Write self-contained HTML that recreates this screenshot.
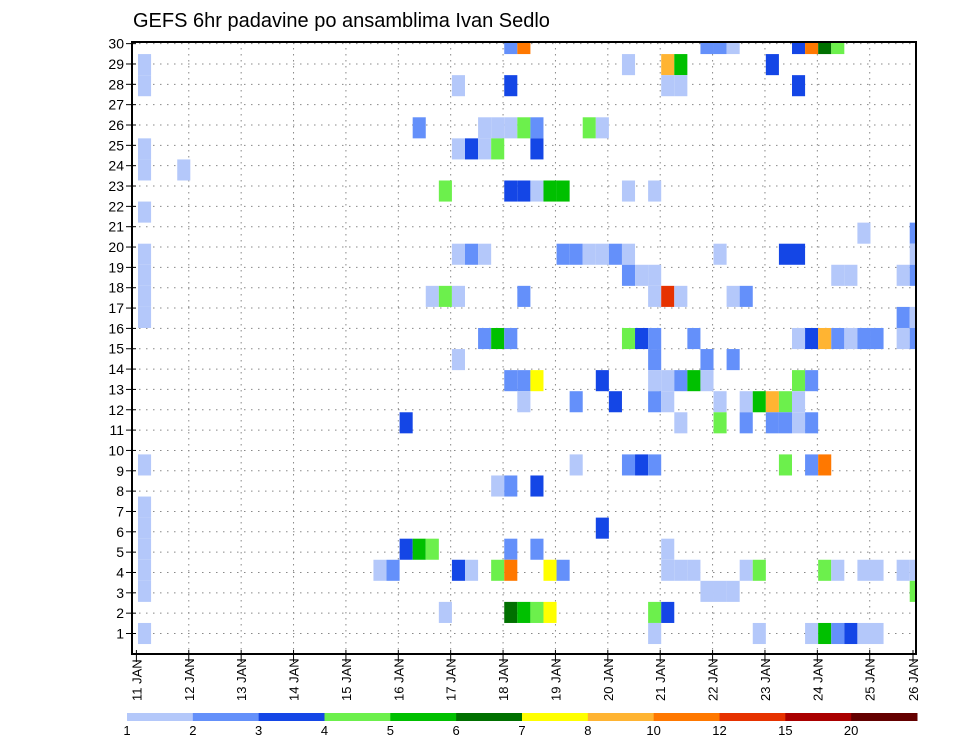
<!DOCTYPE html>
<html><head><meta charset="utf-8"><style>
html,body{margin:0;padding:0;background:#fff;}
svg{display:block;font-family:"Liberation Sans",sans-serif;}
</style></head><body>
<svg id="chart" width="960" height="742" viewBox="0 0 960 742">
<text x="133" y="27" font-size="20" fill="#000">GEFS 6hr padavine po ansamblima Ivan Sedlo</text>
<defs><clipPath id="pc"><rect x="132" y="42" width="784" height="612"/></clipPath></defs>
<g id="grid"></g>
<g id="cells" clip-path="url(#pc)"></g>
<rect x="132" y="42" width="784" height="612" fill="none" stroke="#000" stroke-width="2"/>
<g id="axes"></g>
<g id="legend"></g>
</svg>
<script>
const dayLabels=["11 JAN","12 JAN","13 JAN","14 JAN","15 JAN","16 JAN","17 JAN","18 JAN","19 JAN","20 JAN","21 JAN","22 JAN","23 JAN","24 JAN","25 JAN","26 JAN"];
const memberTicks=[1,2,3,4,5,6,7,8,9,10,11,12,13,14,15,16,17,18,19,20,21,22,23,24,25,26,27,28,29,30];
const levelBounds=[1,2,3,4,5,6,7,8,10,12,15,20];
const levelLabels=["1","2","3","4","5","6","7","8","10","12","15","20"];
const levelColors=["#b4c8fa","#6490fa","#1446e6","#6cf04c","#00c000","#007000","#ffff00","#ffb432","#ff7800","#e63200","#aa0000","#640000"];
const cellMember=[
29,29,29,29,29,29,29,29,29,
28,28,28,28,28,
27,27,27,27,27,27,
25,25,25,25,25,25,25,25,
24,24,24,24,24,24,
23,23,
22,22,22,22,22,22,22,22,
21,
20,20,
19,19,19,19,19,19,19,19,19,19,19,19,19,19,
18,18,18,18,18,18,18,18,
17,17,17,17,17,17,17,17,17,17,
16,16,16,
15,15,15,15,15,15,15,15,15,15,15,15,15,15,15,15,
14,14,14,14,
13,13,13,13,13,13,13,13,13,13,13,
12,12,12,12,12,12,12,12,12,12,12,
11,11,11,11,11,11,11,11,
9,9,9,9,9,9,9,9,
8,8,8,
7,
6,6,
5,5,5,5,5,5,5,
4,4,4,4,4,4,4,4,4,4,4,4,4,4,4,4,4,4,4,4,
3,3,3,3,3,
2,2,2,2,2,2,2,
1,1,1,1,1,1,1,1,1];
const cellStep=[
28,29,43,44,45,50,51,52,53,
0,37,40,41,48,
0,24,28,40,41,50,
21,26,27,28,29,30,34,35,
0,24,25,26,27,30,
0,3,
23,28,29,30,31,32,37,39,
0,
55,59,
0,24,25,26,32,33,34,35,36,37,44,49,50,59,
0,37,38,39,53,54,58,59,
0,22,23,24,29,39,40,41,45,46,
0,58,59,
26,27,28,37,38,39,42,50,51,52,53,54,55,56,58,59,
24,39,43,45,
28,29,30,35,39,40,41,42,43,50,51,
29,33,36,39,40,44,46,47,48,49,50,
20,41,44,46,48,49,50,51,
0,33,37,38,39,49,51,52,
27,28,30,
0,
0,35,
0,20,21,22,28,30,40,
0,18,19,24,25,27,28,31,32,40,41,42,46,47,52,53,55,56,58,59,
0,43,44,45,59,
23,28,29,30,31,39,40,
0,39,47,51,52,53,54,55,56];
const cellPrecip=[
2.5,11,2.5,2.5,1.5,3.5,11,6.5,4.5,
1.5,1.5,9,5.5,3.5,
1.5,1.5,3.5,1.5,1.5,3.5,
2.5,1.5,1.5,1.5,4.5,2.5,4.5,1.5,
1.5,1.5,3.5,1.5,4.5,3.5,
1.5,1.5,
4.5,3.5,3.5,1.5,5.5,5.5,1.5,1.5,
1.5,
1.5,2.5,
1.5,1.5,2.5,1.5,2.5,2.5,1.5,1.5,2.5,1.5,1.5,3.5,3.5,1.5,
1.5,2.5,1.5,1.5,1.5,1.5,1.5,2.5,
1.5,1.5,4.5,1.5,2.5,1.5,13,1.5,1.5,2.5,
1.5,2.5,1.5,
2.5,5.5,2.5,4.5,3.5,2.5,2.5,1.5,3.5,9,2.5,1.5,2.5,2.5,1.5,2.5,
1.5,2.5,2.5,2.5,
2.5,2.5,7.5,3.5,1.5,1.5,2.5,5.5,1.5,4.5,2.5,
1.5,2.5,3.5,2.5,1.5,1.5,1.5,5.5,9,4.5,1.5,
3.5,1.5,4.5,2.5,2.5,2.5,1.5,2.5,
1.5,1.5,2.5,3.5,2.5,4.5,2.5,11,
1.5,2.5,3.5,
1.5,
1.5,3.5,
1.5,3.5,5.5,4.5,2.5,2.5,1.5,
1.5,1.5,2.5,3.5,1.5,4.5,11,7.5,2.5,1.5,1.5,1.5,1.5,4.5,4.5,1.5,1.5,1.5,1.5,1.5,
1.5,1.5,1.5,1.5,4.5,
1.5,6.5,5.5,4.5,7.5,4.5,3.5,
1.5,1.5,1.5,1.5,5.5,2.5,3.5,1.5,1.5];

const NS="http://www.w3.org/2000/svg";
function mk(tag,attrs,parent){const e=document.createElementNS(NS,tag);for(const k in attrs)e.setAttribute(k,attrs[k]);parent.appendChild(e);return e;}
// axis functions
const PL=132,PR=916,PT=42,PB=654;
function xDay(d){return 136.4+d*52.38;}
function xStep(t){return 138+t*13.08;}
const stepW=13.08;
function yTick(v){return 633.5-(v-1)*20.34;}
function yMember(m){return 633.5-(m-1)*21.07;}
const memberH=21.07;
function colorFor(v){let idx=0;for(let i=0;i<levelBounds.length;i++){if(v>=levelBounds[i])idx=i;}return levelColors[idx];}

const grid=document.getElementById('grid');
memberTicks.forEach(v=>{
  const l=mk('line',{x1:PL,x2:PR,y1:yTick(v),y2:yTick(v),stroke:'#888','stroke-width':1,'stroke-dasharray':'1.5,5.5'},grid);
  
  
});
dayLabels.forEach((s,d)=>{
  const x=Math.min(xDay(d),913);
  if(d>0&&d<15){
    const l=mk('line',{x1:x,x2:x,y1:PT,y2:PB,stroke:'#888','stroke-width':1,'stroke-dasharray':'1.5,4.5'},grid);
    
    
  }
});

const cells=document.getElementById('cells');
for(let i=0;i<cellMember.length;i++){
  const cy=yMember(cellMember[i]);
  const r=mk('rect',{x:xStep(cellStep[i]),y:cy-memberH/2,width:stepW,height:memberH,fill:colorFor(cellPrecip[i])},cells);
  
  
}

const axes=document.getElementById('axes');
memberTicks.forEach(v=>{
  const y=yTick(v);
  const t=mk('line',{x1:126,x2:136,y1:y,y2:y,stroke:'#000','stroke-width':1},axes);
  
  
  const tx=mk('text',{x:124,y:y+5,'text-anchor':'end','font-size':14,fill:'#000'},axes);
  tx.textContent=v;
  
  
});
dayLabels.forEach((s,d)=>{
  const x=Math.min(xDay(d),913);
  const t=mk('line',{x1:x,x2:x,y1:PB-4,y2:PB+8,stroke:'#000','stroke-width':1},axes);
  
  
  const tx=mk('text',{transform:'translate('+(x+5)+',701) rotate(-90)','font-size':13,fill:'#000'},axes);
  tx.textContent=s;
  
  
});

const lg=document.getElementById('legend');
const LX=127,LW=790/levelColors.length;
levelColors.forEach((c,i)=>{
  const r=mk('rect',{x:LX+i*LW,y:713,width:LW+0.5,height:8,fill:c},lg);
  
  
});
levelLabels.forEach((s,i)=>{
  const tx=mk('text',{x:LX+i*LW,y:735,'text-anchor':'middle','font-size':13,fill:'#000'},lg);
  tx.textContent=s;
  
  
});
</script>
</body></html>
